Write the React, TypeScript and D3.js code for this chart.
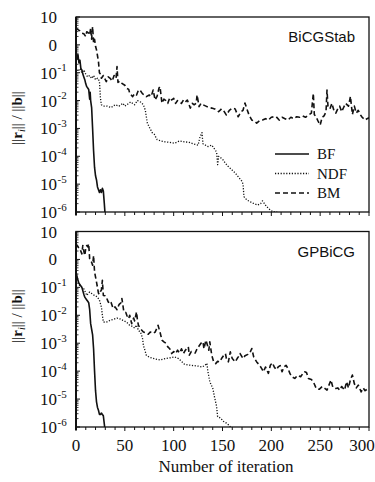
import React from 'react'
import * as d3 from 'd3'

// [iteration, log10(residual)]
const bicgBF = [[0,-0.25],[1,-0.5],[2,-0.35],[3,-0.65],[4,-0.55],[5,-0.85],[6,-0.9],[7,-1.05],[8,-1.15],[9,-1.25],[10,-1.4],[11,-1.5],[12,-1.55],[13,-1.6],[14,-1.95],[14.5,-1.7],[15,-2.0],[16,-2.25],[17,-3.0],[18,-3.8],[19,-4.4],[20,-4.7],[21,-4.85],[22,-5.1],[23,-5.2],[24,-5.3],[25,-5.2],[26,-5.3],[27,-5.15],[28,-5.25],[29,-5.7],[30,-6.2]]
const bicgNDF = [[0,-0.8],[2,-0.95],[4,-0.85],[6,-1.0],[8,-0.9],[10,-1.05],[12,-1.15],[14,-1.1],[16,-1.2],[18,-1.1],[20,-1.25],[22,-1.2],[24,-1.3],[25,-1.9],[26,-2.15],[28,-2.2],[32,-2.2],[36,-2.25],[40,-2.15],[44,-2.2],[48,-2.1],[50,-2.2],[54,-2.1],[56,-2.05],[60,-2.15],[63,-2.0],[66,-2.05],[69,-2.15],[71,-2.35],[73,-2.8],[75,-2.95],[78,-3.15],[80,-3.2],[83,-3.4],[87,-3.45],[91,-3.48],[96,-3.5],[101,-3.53],[106,-3.45],[111,-3.48],[116,-3.5],[120,-3.55],[125,-3.6],[127,-3.3],[129,-3.15],[130,-3.55],[135,-3.65],[139,-3.6],[142,-3.75],[144,-3.85],[145,-4.3],[146,-4.0],[150,-4.1],[153,-4.25],[156,-4.37],[160,-4.5],[163,-4.6],[166,-4.73],[170,-4.9],[171,-5.0],[172,-5.45],[175,-5.57],[181,-5.68],[186,-5.75],[189,-5.7],[191,-5.6],[195,-5.8],[199,-5.93],[202,-6.0],[206,-6.0]]
const bicgBM = [[0,0.6],[2,0.55],[4,0.5],[6,0.42],[8,0.4],[10,0.3],[11,0.47],[13,0.42],[14,0.35],[15,0.6],[16,0.2],[17,0.65],[18,0.07],[19,0.2],[20,-0.05],[21,-0.18],[23,-0.6],[24,-1.0],[25,-1.05],[26,-1.2],[28,-1.1],[30,-1.25],[31,-1.32],[33,-1.15],[35,-1.2],[37,-1.3],[39,-1.1],[41,-1.2],[42,-0.78],[43,-1.35],[45,-1.3],[47,-1.38],[50,-1.45],[52,-1.56],[54,-1.6],[55,-1.74],[58,-1.86],[60,-1.75],[62,-1.8],[64,-1.62],[66,-1.65],[68,-1.75],[70,-1.8],[72,-1.86],[75,-1.8],[77,-1.85],[79,-1.62],[81,-1.98],[83,-1.85],[85,-1.55],[86,-1.5],[88,-2.09],[90,-1.95],[92,-2.0],[94,-2.1],[96,-1.9],[98,-1.98],[100,-1.92],[102,-2.1],[104,-2.0],[106,-2.04],[108,-2.1],[110,-1.98],[112,-2.05],[114,-1.98],[117,-2.27],[119,-2.1],[121,-2.15],[123,-2.1],[124,-1.8],[126,-2.22],[128,-2.1],[130,-2.15],[133,-2.2],[136,-2.25],[139,-2.27],[142,-2.3],[146,-2.4],[149,-2.3],[151,-2.35],[154,-2.52],[157,-2.35],[160,-2.27],[163,-2.3],[166,-2.58],[169,-2.4],[171,-2.35],[173,-2.09],[175,-2.3],[177,-2.5],[180,-2.7],[183,-2.75],[185,-2.81],[188,-2.72],[191,-2.7],[194,-2.65],[197,-2.7],[200,-2.6],[203,-2.58],[205,-2.58],[208,-2.7],[211,-2.6],[214,-2.65],[217,-2.7],[220,-2.6],[223,-2.65],[226,-2.58],[229,-2.6],[232,-2.55],[235,-2.6],[238,-2.52],[241,-2.45],[243,-1.74],[244,-2.5],[246,-2.6],[248,-2.75],[250,-2.88],[252,-2.6],[254,-2.55],[256,-2.4],[257,-1.62],[258,-2.2],[260,-2.3],[262,-2.1],[264,-2.35],[266,-2.45],[268,-2.3],[270,-2.2],[272,-2.4],[274,-2.25],[276,-2.1],[279,-2.2],[281,-1.85],[283,-2.5],[285,-2.2],[287,-2.45],[289,-2.35],[291,-2.5],[293,-2.6],[296,-2.7],[298,-2.65],[300,-2.62]]

const gpBF = [[0,-0.45],[1,-0.6],[2,-0.75],[3,-0.85],[5,-0.95],[6,-1.0],[8,-1.25],[9,-1.35],[11,-1.45],[12,-1.5],[13,-1.55],[14,-1.8],[15,-2.3],[16,-2.5],[17,-2.7],[18,-3.2],[19,-4.0],[20,-4.7],[21,-5.1],[22,-5.3],[23,-5.4],[24,-5.55],[25,-5.55],[26,-5.5],[27,-5.55],[28,-5.6],[29,-5.9],[30,-6.2]]
const gpNDF = [[0,-0.75],[2,-0.85],[4,-0.95],[6,-1.0],[8,-1.05],[10,-1.2],[11,-1.29],[13,-1.2],[14,-1.17],[16,-1.22],[18,-1.27],[20,-1.3],[22,-1.35],[24,-1.46],[26,-1.7],[27,-2.0],[28,-2.24],[31,-2.25],[35,-2.18],[38,-2.15],[42,-2.1],[45,-2.13],[48,-2.18],[52,-2.25],[55,-2.36],[58,-2.4],[60,-2.46],[62,-2.35],[64,-2.55],[66,-2.6],[68,-2.8],[69,-3.07],[72,-3.43],[75,-3.5],[79,-3.54],[83,-3.58],[86,-3.6],[90,-3.56],[93,-3.54],[97,-3.52],[101,-3.49],[105,-3.55],[108,-3.65],[111,-3.75],[115,-3.78],[120,-3.8],[125,-3.82],[129,-3.85],[132,-3.8],[134,-3.72],[135,-4.0],[137,-4.38],[140,-4.61],[142,-4.96],[144,-5.27],[145,-5.63],[148,-5.68],[151,-5.8],[154,-5.86],[156,-5.92],[158,-6.0],[160,-6.05]]
const gpBM = [[0,0.56],[2,0.45],[4,0.38],[6,0.2],[7,0.5],[8,0.3],[9,0.14],[10,0.4],[11,0.5],[12,0.45],[13,0.56],[14,0.02],[15,-0.05],[16,-0.1],[17,-0.21],[18,0.14],[19,-0.45],[21,-0.81],[23,-1.21],[24,-1.25],[25,-1.15],[26,-1.1],[27,-0.75],[28,-1.29],[30,-1.3],[31,-1.35],[33,-1.52],[35,-1.6],[36,-1.55],[38,-1.76],[40,-1.7],[42,-1.8],[44,-1.62],[46,-1.55],[47,-1.4],[49,-1.88],[51,-1.9],[52,-2.0],[54,-2.12],[55,-2.0],[57,-2.3],[59,-2.1],[60,-2.2],[62,-1.88],[63,-2.2],[64,-2.36],[66,-2.48],[69,-2.6],[71,-2.62],[74,-2.68],[76,-2.6],[79,-2.65],[81,-2.6],[83,-2.45],[84,-2.36],[86,-2.6],[88,-2.89],[90,-2.95],[92,-3.0],[94,-3.13],[96,-3.2],[98,-3.37],[100,-3.3],[102,-3.37],[104,-3.25],[106,-3.35],[108,-3.2],[110,-3.37],[112,-3.25],[115,-3.13],[116,-3.43],[118,-3.3],[120,-3.31],[122,-3.35],[124,-3.2],[126,-3.1],[128,-3.0],[130,-2.95],[131,-3.2],[133,-2.89],[134,-3.0],[136,-3.25],[137,-2.95],[139,-3.43],[141,-3.67],[143,-3.73],[145,-3.65],[147,-3.67],[149,-3.55],[151,-3.45],[153,-3.37],[154,-3.55],[156,-3.67],[158,-3.31],[160,-3.55],[163,-3.67],[165,-3.55],[167,-3.45],[168,-3.37],[171,-3.55],[173,-3.45],[176,-3.4],[178,-3.35],[180,-3.19],[182,-3.5],[185,-3.67],[188,-3.79],[190,-3.9],[192,-4.02],[194,-3.85],[197,-4.08],[199,-3.79],[201,-3.7],[203,-3.85],[205,-3.95],[207,-3.85],[209,-3.8],[211,-4.02],[213,-3.85],[215,-3.79],[217,-3.9],[219,-4.08],[221,-4.2],[224,-4.26],[227,-4.15],[230,-4.2],[232,-4.1],[234,-4.02],[236,-4.05],[238,-4.26],[241,-4.3],[243,-4.38],[246,-4.62],[249,-4.65],[252,-4.55],[254,-4.6],[257,-4.68],[259,-4.5],[261,-4.32],[263,-4.58],[266,-4.62],[268,-4.6],[270,-4.68],[272,-4.55],[275,-4.68],[277,-4.38],[279,-4.6],[281,-4.3],[283,-4.14],[285,-4.45],[287,-4.6],[289,-4.5],[292,-4.74],[294,-4.6],[296,-4.7],[298,-4.65],[300,-4.68]]

const yExps = [1, 0, -1, -2, -3, -4, -5, -6]
const xTickLabels = [0, 50, 100, 150, 200, 250, 300]
const seriesNames = ['BF', 'NDF', 'BM']

const W = 375, H = 482
const L = 76, R = 369
const SERIF = '"Liberation Serif", "Times New Roman", serif'
const SANS = '"Liberation Sans", Arial, sans-serif'
const dash: Record<string, string | undefined> = { BF: undefined, NDF: '1.2,1.6', BM: '5,3' }
const widths: Record<string, number> = { BF: 1.6, NDF: 1.3, BM: 1.6 }

const x = d3.scaleLinear().domain([0, 300]).range([L, R])

function Panel({ top, bottom, title, series, legend, id, labelY }: any) {
  const y = d3.scaleLog().domain([1e-6, 10]).range([bottom, top])
  const line = d3.line<number[]>().x(d => x(d[0])).y(d => y(Math.pow(10, d[1])))
  const minor: number[] = []
  for (let e = -6; e < 1; e++) for (let k = 2; k <= 9; k++) minor.push(k * Math.pow(10, e))
  const xMinor = d3.range(0, 301, 10)
  return (
    <g>
      <defs>
        <clipPath id={id}><rect x={L} y={top} width={R - L} height={bottom - top} /></clipPath>
      </defs>
      <g clipPath={`url(#${id})`}>
        {series.map((s: any, i: number) => (
          <path key={i} d={line(s) || ''} fill="none" stroke="#111" strokeWidth={widths[seriesNames[i]]}
            strokeDasharray={dash[seriesNames[i]]} strokeLinejoin="round" />
        ))}
      </g>
      <rect x={L} y={top} width={R - L} height={bottom - top} fill="none" stroke="#111" strokeWidth={1.3} />
      <line x1={L} x2={L} y1={top} y2={bottom + 3} stroke="#111" strokeWidth={2} />
      {minor.map((v, i) => (
        <line key={'m' + i} x1={L} x2={L + 2.5} y1={y(v)} y2={y(v)} stroke="#111" strokeWidth={0.8} />
      ))}
      {yExps.map(e => (
        <line key={'M' + e} x1={L} x2={L + 4} y1={y(Math.pow(10, e))} y2={y(Math.pow(10, e))} stroke="#111" strokeWidth={1} />
      ))}
      {xMinor.map(t => (
        <line key={'x' + t} x1={x(t)} x2={x(t)} y1={bottom} y2={bottom + (t % 50 === 0 ? 4 : 3)} stroke="#111" strokeWidth={1} />
      ))}
      {yExps.map(e => {
        const ty = y(Math.pow(10, e)) + 6
        return (
          <g key={'l' + e}>
            <text x={57} y={ty} textAnchor="end" fontFamily={SERIF} fontSize={17} fill="#111">{e === 0 ? '0' : '10'}</text>
            {e < 0 && <text x={57.5} y={ty - 7.5} fontFamily={SERIF} fontSize={11} fill="#111">{`-${-e}`}</text>}
          </g>
        )
      })}
      <text transform={`translate(22,${labelY}) rotate(-90)`} textAnchor="middle" fontFamily={SERIF} fontSize={15} fill="#111">
        {'||'}<tspan fontWeight="bold">r</tspan><tspan fontStyle="italic" fontSize={10} dy={3}>i</tspan>
        <tspan dy={-3}>{'|| / ||'}</tspan><tspan fontWeight="bold">b</tspan>{'||'}
      </text>
      <text x={355} y={top + 25} textAnchor="end" fontFamily={SANS} fontSize={15} fill="#111">{title}</text>
      {legend && seriesNames.map((n, i) => {
        const ly = 154 + i * 19.5
        return (
          <g key={n}>
            <line x1={275} x2={309} y1={ly} y2={ly} stroke="#111" strokeWidth={widths[n]} strokeDasharray={dash[n]} />
            <text x={317} y={ly + 5} fontFamily={SERIF} fontSize={15} fill="#111">{n}</text>
          </g>
        )
      })}
    </g>
  )
}

export default function App() {
  return (
    <svg width={W} height={H} viewBox={`0 0 ${W} ${H}`}
      style={{ position: 'absolute', left: 0, top: 0, background: '#fff', display: 'block' }}>
      <rect width={W} height={H} fill="#fff" />
      <Panel id="c1" top={17} bottom={212} labelY={118} title="BiCGStab" series={[bicgBF, bicgNDF, bicgBM]} legend />
      <Panel id="c2" top={231.5} bottom={427} labelY={316} title="GPBiCG" series={[gpBF, gpNDF, gpBM]} legend={false} />
      {xTickLabels.map(t => (
        <text key={t} x={Math.min(x(t), W - 13)} y={451} textAnchor="middle" fontFamily={SERIF} fontSize={17} fill="#111">{t}</text>
      ))}
      <text x={226} y={472} textAnchor="middle" fontFamily={SERIF} fontSize={17} fill="#111">Number of iteration</text>
    </svg>
  )
}
